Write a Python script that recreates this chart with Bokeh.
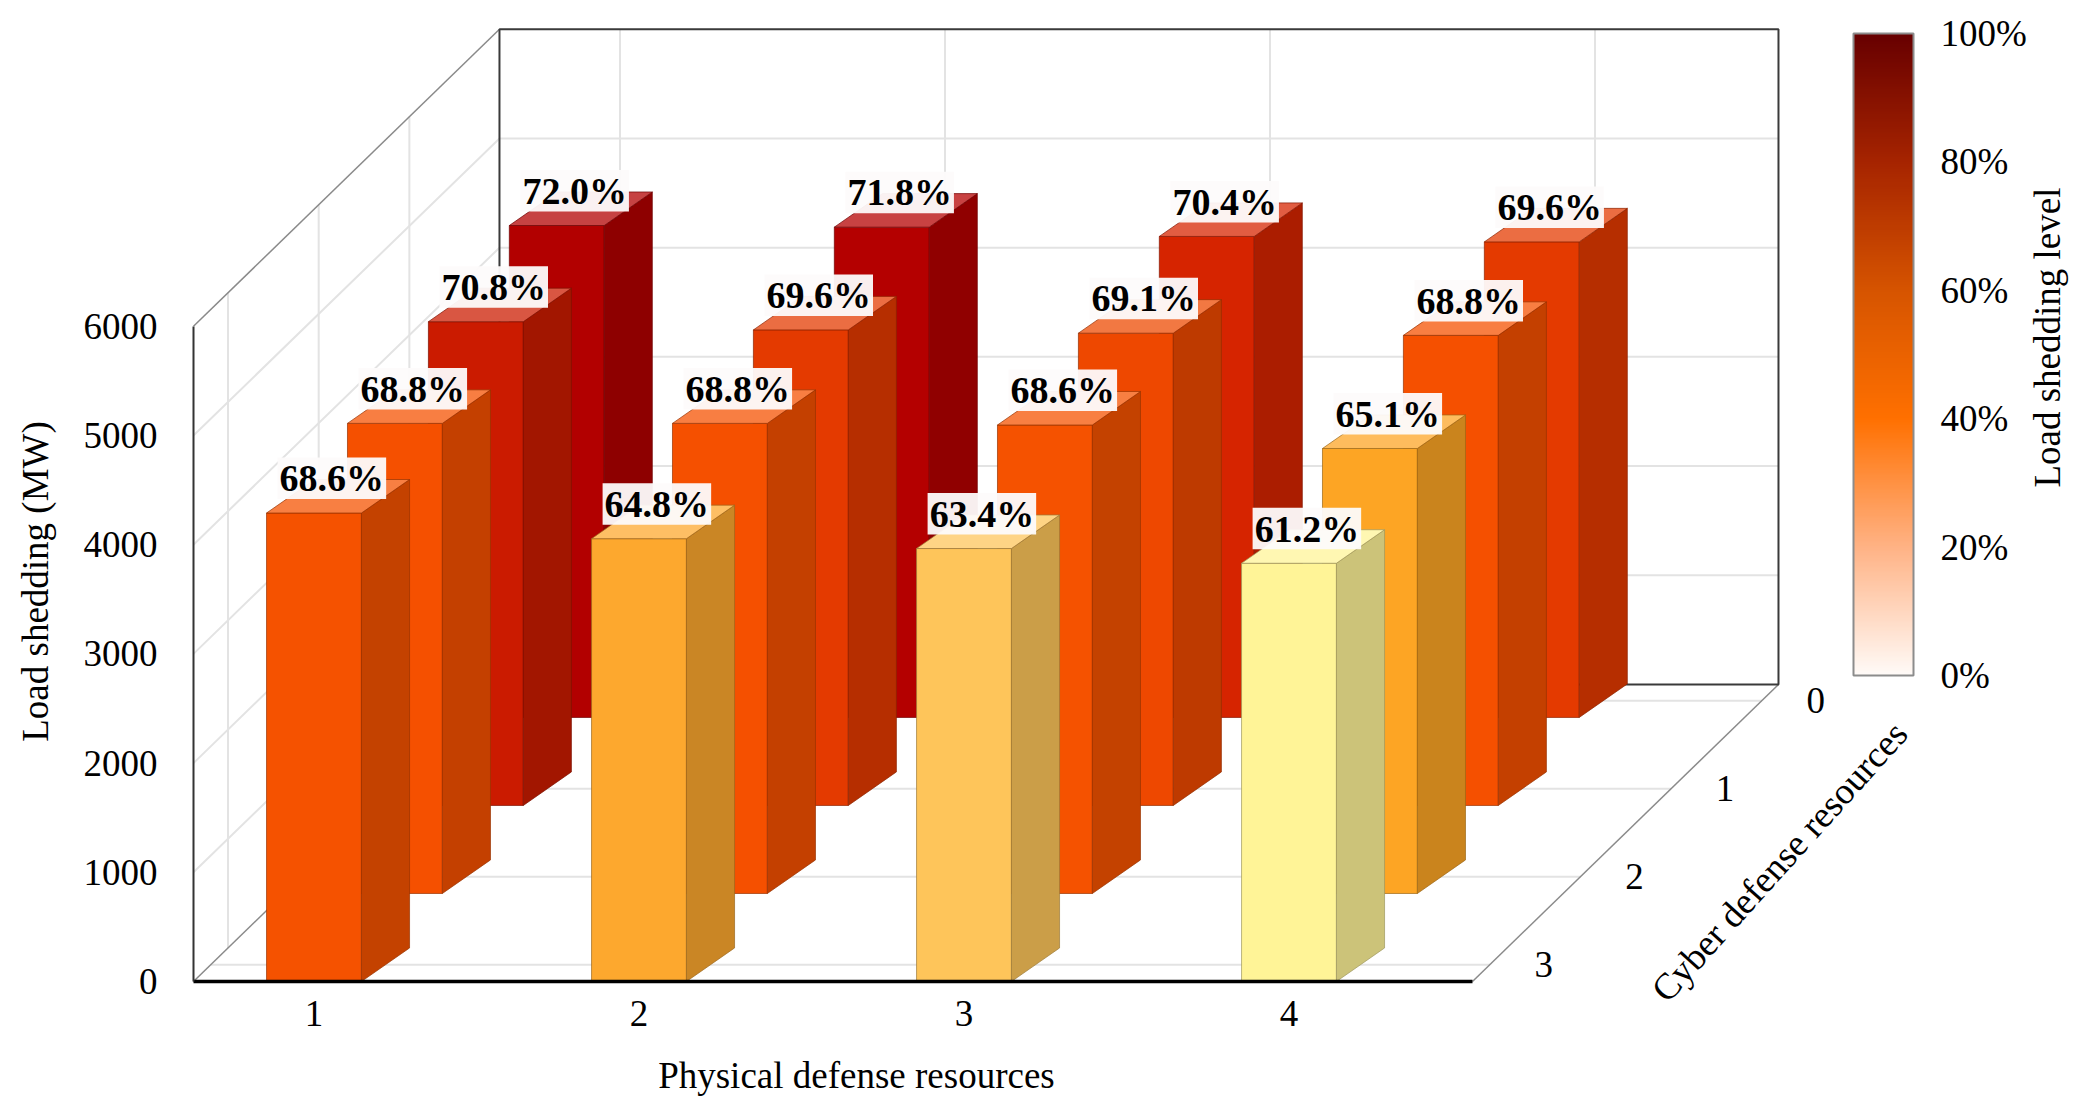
import numpy as np
from bokeh.plotting import figure
from bokeh.models import (Range1d, FixedTicker, LinearColorMapper, ColorBar,
                          PrintfTickFormatter, Label)
from bokeh.core.properties import value
from bokeh.embed import file_html
from bokeh.resources import INLINE

# ---- data ----
physical = [1, 2, 3, 4]
cyber = [0, 1, 2, 3]
# load shedding (MW), one list per cyber level, physical 1..4
shed_c0 = [4505, 4490, 4405, 4355]
shed_c1 = [4430, 4355, 4325, 4305]
shed_c2 = [4305, 4305, 4290, 4075]
shed_c3 = [4290, 4055, 3965, 3830]
# load shedding level (%)
level_c0 = [72.0, 71.8, 70.4, 69.6]
level_c1 = [70.8, 69.6, 69.1, 68.8]
level_c2 = [68.8, 68.8, 68.6, 65.1]
level_c3 = [68.6, 64.8, 63.4, 61.2]
y_ticks = [0, 1000, 2000, 3000, 4000, 5000, 6000]
cbar_ticks = [0, 20, 40, 60, 80, 100]

shed = [shed_c0, shed_c1, shed_c2, shed_c3]
level = [level_c0, level_c1, level_c2, level_c3]

# ---- fake 3d box, in data units (x: physical, y: MW on the front plane) ----
X0, X1 = 0.0354, 6.4169
Y0, Y1 = -1080.6, 8983.5
FLOOR_L, FLOOR_R = 0.6292, 4.5646
WALL_DX, WALL_DY = 0.9415, 2720
ROW_DX, ROW_DY = 0.249, 806
BAR_DX, BAR_DY = 0.148, 307
BAR_W = 0.292
TOP = 6000
FONT = "Liberation Serif"

# colour ramp used for the bars (level -> colour)
ramp = [(61.2, "#FFF497"), (63.4, "#FEC55A"), (64.8, "#FDA82E"), (65.1, "#FDA524"),
        (68.6, "#F55200"), (68.8, "#F55000"), (69.1, "#EE4800"), (69.6, "#E43A00"),
        (70.4, "#D62400"), (70.8, "#CB1B00"), (71.8, "#B40000"), (72.0, "#B20000")]


def rgb(h):
    return np.array([int(h[i:i + 2], 16) for i in (1, 3, 5)], dtype=float)


def tohex(c):
    c = np.clip(np.round(c), 0, 255).astype(int)
    return "#%02x%02x%02x" % tuple(c)


def bar_colour(v):
    ks = [k for k, _ in ramp]
    cs = np.array([rgb(c) for _, c in ramp])
    return np.array([np.interp(v, ks, cs[:, j]) for j in range(3)])


def wall_x(m):
    # x shift of the left/right floor edges at depth m (MW units)
    return m / WALL_DY * WALL_DX


p = figure(width=2074, height=1099, x_range=Range1d(X0, X1), y_range=Range1d(Y0, Y1),
           output_backend="svg", toolbar_location=None, title=None,
           min_border_left=0, min_border_right=0, min_border_top=0, min_border_bottom=0)
p.xgrid.visible = False
p.ygrid.visible = False
p.outline_line_color = None
p.background_fill_color = "white"
p.border_fill_color = "white"

# grid lines on the walls and floor
grid_col = "#e3e3e3"
gx, gy = [], []
for v in y_ticks[1:-1]:
    gx.append([FLOOR_L, FLOOR_L + WALL_DX, FLOOR_R + WALL_DX])
    gy.append([v, v + WALL_DY, v + WALL_DY])
for i in physical:
    gx.append([i + WALL_DX, i + WALL_DX])
    gy.append([WALL_DY, WALL_DY + TOP])
for d in range(3):
    m = d * ROW_DY + BAR_DY
    gx.append([FLOOR_L + wall_x(m), FLOOR_L + wall_x(m)])
    gy.append([m, m + TOP])
for d in range(4):
    m = d * ROW_DY + BAR_DY / 2
    gx.append([FLOOR_L + wall_x(m), FLOOR_R + wall_x(m)])
    gy.append([m, m])
p.multi_line(gx, gy, line_color=grid_col, line_width=2)

# box edges
ex = [[FLOOR_L, FLOOR_L + WALL_DX], [FLOOR_L, FLOOR_L + WALL_DX], [FLOOR_R, FLOOR_R + WALL_DX]]
ey = [[TOP, TOP + WALL_DY], [0, WALL_DY], [0, WALL_DY]]
p.multi_line(ex, ey, line_color="#8a8a8a", line_width=1.5)
p.multi_line([[FLOOR_L + WALL_DX, FLOOR_L + WALL_DX, FLOOR_R + WALL_DX, FLOOR_R + WALL_DX, FLOOR_L + WALL_DX]],
             [[WALL_DY, WALL_DY + TOP, WALL_DY + TOP, WALL_DY, WALL_DY]],
             line_color="#3a3a3a", line_width=2)

# bars, back row first
xs, ys, fills, lines = [], [], [], []
for c in cyber:
    d = 3 - c
    for k, i in enumerate(physical):
        h = shed[c][k]
        f = bar_colour(level[c][k])
        x0 = i - BAR_W / 2 + d * ROW_DX
        y0 = d * ROW_DY
        x1 = x0 + BAR_W
        edge = tohex(f * 0.62)
        xs.append([x0, x1, x1, x0]); ys.append([y0, y0, y0 + h, y0 + h])
        fills.append(tohex(f)); lines.append(edge)
        xs.append([x1, x1 + BAR_DX, x1 + BAR_DX, x1]); ys.append([y0, y0 + BAR_DY, y0 + h + BAR_DY, y0 + h])
        fills.append(tohex(f * 0.80)); lines.append(edge)
        xs.append([x0, x1, x1 + BAR_DX, x0 + BAR_DX]); ys.append([y0 + h, y0 + h, y0 + h + BAR_DY, y0 + h + BAR_DY])
        fills.append(tohex(f * 0.74 + 255 * 0.26)); lines.append(edge)
p.patches(xs, ys, fill_color=fills, line_color=lines, line_width=1, line_alpha=0.7)

# value labels
lx, ly, lt = [], [], []
for c in cyber:
    d = 3 - c
    for k, i in enumerate(physical):
        lx.append(i + d * ROW_DX + 0.055)
        ly.append(d * ROW_DY + shed[c][k] + 318)
        lt.append("%.1f%%" % level[c][k])
p.rect(lx, ly, width=0.334, height=380, fill_color="#fdfbfb", fill_alpha=0.95, line_color=None)
p.text(lx, ly, text=lt, text_font=value(FONT), text_font_style="bold", text_font_size="38px",
       text_align="center", text_baseline="middle", text_color="black")

# cyber axis tick labels along the right floor edge
cx = [FLOOR_R + wall_x(d * ROW_DY + BAR_DY / 2) + 0.166 for d in range(4)]
cy = [d * ROW_DY + BAR_DY / 2 for d in range(4)]
p.text(cx, cy, text=[str(c) for c in cyber[::-1]], text_font=value(FONT), text_font_size="37px",
       text_align="center", text_baseline="middle", text_color="black")

# axes, pinned to the front edges of the box
p.yaxis.fixed_location = FLOOR_L
p.yaxis.bounds = (0, TOP)
p.yaxis.ticker = FixedTicker(ticks=y_ticks)
p.yaxis.major_tick_line_color = None
p.yaxis.minor_tick_line_color = None
p.yaxis.axis_line_color = "#333333"
p.yaxis.axis_line_width = 2
p.yaxis.major_label_standoff = 30
p.yaxis.major_label_text_font = FONT
p.yaxis.major_label_text_font_size = "37px"
p.yaxis.major_label_text_color = "black"

p.xaxis.fixed_location = 0
p.xaxis.bounds = (FLOOR_L, FLOOR_R)
p.xaxis.ticker = FixedTicker(ticks=physical)
p.xaxis.major_tick_line_color = None
p.xaxis.minor_tick_line_color = None
p.xaxis.axis_line_color = "black"
p.xaxis.axis_line_width = 3.5
p.xaxis.major_label_standoff = 14
p.xaxis.major_label_text_font = FONT
p.xaxis.major_label_text_font_size = "37px"
p.xaxis.major_label_text_color = "black"

# titles
tkw = dict(text_font=FONT, text_font_size="37px", text_color="black",
           text_align="center", text_baseline="middle")
p.add_layout(Label(x=0.1431, y=3663, text="Load shedding (MW)", angle=np.pi / 2, **tkw))
p.add_layout(Label(x=2.669, y=-861, text="Physical defense resources", **tkw))
p.add_layout(Label(x=5.509, y=1099, text="Cyber defense resources", angle=np.radians(48), **tkw))
p.add_layout(Label(x=6.334, y=5897, text="Load shedding level", angle=np.pi / 2, **tkw))

# colour bar
anchors = [(0.0, (255, 250, 247)), (0.2, (255, 178, 132)), (0.4, (255, 112, 0)),
           (0.6, (214, 84, 0)), (0.8, (166, 36, 0)), (1.0, (104, 0, 0))]
pos = [a for a, _ in anchors]
cols = np.array([b for _, b in anchors], dtype=float)
palette = [tohex(np.array([np.interp(t, pos, cols[:, j]) for j in range(3)]))
           for t in np.linspace(0, 1, 256)]
mapper = LinearColorMapper(palette=palette, low=0, high=100)
cb = ColorBar(color_mapper=mapper, ticker=FixedTicker(ticks=cbar_ticks),
              formatter=PrintfTickFormatter(format="%d%%"), orientation="vertical",
              width=60, height=642, padding=0, margin=0, location=(1853, 424),
              major_tick_line_color=None, minor_tick_line_color=None,
              bar_line_color="#8c8c8c", bar_line_width=2, label_standoff=27,
              major_label_text_font=FONT, major_label_text_font_size="37px",
              major_label_text_color="black",
              background_fill_color=None, border_line_color=None)
p.add_layout(cb, "center")

open("out.html", "w").write(file_html(p, INLINE))
